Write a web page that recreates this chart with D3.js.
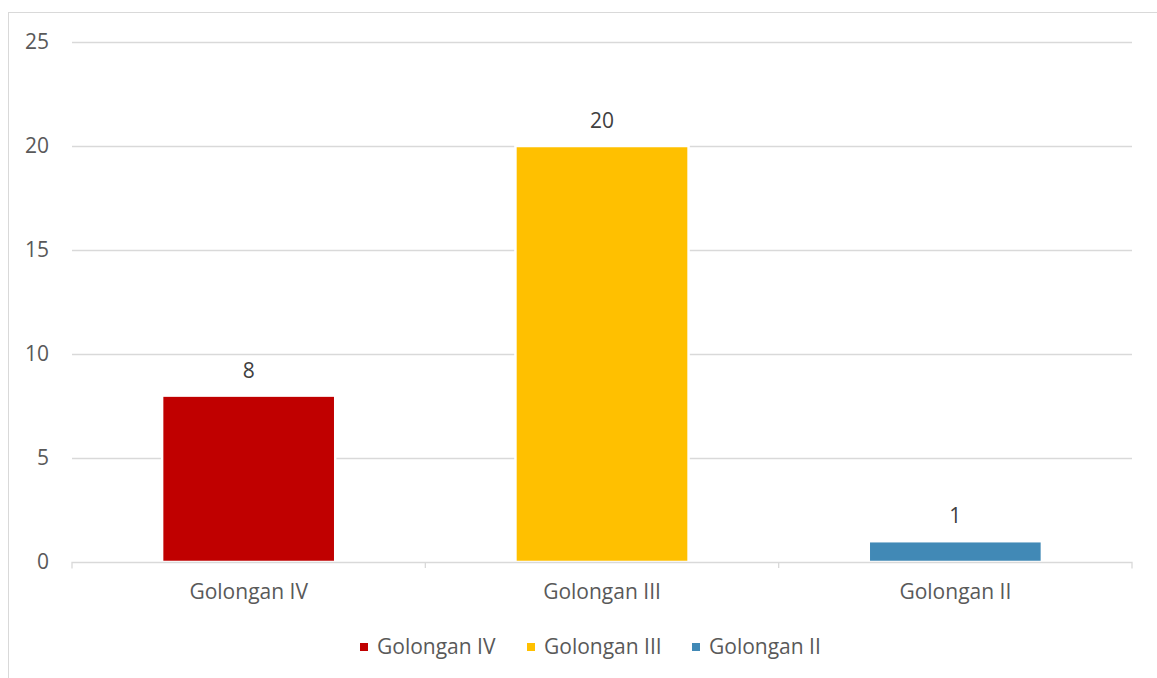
<!DOCTYPE html>
<html>
<head>
<meta charset="utf-8">
<script src="https://cdn.jsdelivr.net/npm/d3@7"></script>
<style>
  body { margin: 0; background: #fff; }
  text { font-family: "Open Sans", "Noto Sans", sans-serif; }
</style>
</head>
<body>
<div id="chart"></div>
<script>
let categories = ["Golongan IV", "Golongan III", "Golongan II"];
let values = [8, 20, 1];
let colors = ["#c00000", "#ffc000", "#4189b6"];
let yTicks = [0, 5, 10, 15, 20, 25];

let W = 1157, H = 678;
let margin = {top: 42, left: 72, right: 25, bottom: 116};
let width = W - margin.left - margin.right;
let height = H - margin.top - margin.bottom;
let fs = "21px";

let svg = d3.select("#chart")
    .append("svg")
    .attr("width", W)
    .attr("height", H);

// chart border
svg.append("rect")
    .attr("x", 8.5)
    .attr("y", 12.5)
    .attr("width", W)
    .attr("height", H)
    .attr("fill", "none")
    .attr("stroke", "#d9d9d9");

let g = svg.append("g")
    .attr("transform", "translate(" + margin.left + "," + margin.top + ")");

let x = d3.scaleBand()
    .domain(categories)
    .range([0, width])
    .paddingInner(0.51)
    .paddingOuter(0.255);

let xOuter = d3.scaleBand()
    .domain(categories)
    .range([0, width]);

let y = d3.scaleLinear()
    .domain([0, 25])
    .range([height, 0]);

// gridlines
g.selectAll(".grid")
    .data(yTicks.filter(d => d > 0))
    .enter()
    .append("line")
    .attr("x1", 0)
    .attr("x2", width)
    .attr("y1", d => Math.round(y(d)) + 0.5)
    .attr("y2", d => Math.round(y(d)) + 0.5)
    .attr("stroke", "#d9d9d9")
    .attr("stroke-width", 1.3);

// y labels
g.selectAll(".ylab")
    .data(yTicks)
    .enter()
    .append("text")
    .attr("x", -23)
    .attr("y", d => y(d))
    .attr("dy", "0.35em")
    .attr("text-anchor", "end")
    .attr("fill", "#595959")
    .style("font-size", fs)
    .text(d => d);

// bars
g.selectAll(".bar")
    .data(values)
    .enter()
    .append("rect")
    .attr("x", (d, i) => x(categories[i]))
    .attr("y", d => y(d))
    .attr("width", x.bandwidth())
    .attr("height", d => height - y(d))
    .attr("fill", (d, i) => colors[i])
    .attr("stroke", "#fff")
    .attr("stroke-width", 2.5);

// x axis
let xAxis = d3.axisBottom(xOuter).tickSize(0).tickPadding(22);
let ax = g.append("g")
    .attr("transform", "translate(0," + (Math.round(height) + 0.5) + ")")
    .call(xAxis);
ax.select(".domain")
    .attr("d", "M0,6V0H" + width + "V6")
    .attr("stroke", "#d9d9d9")
    .attr("stroke-width", 1.3);
ax.selectAll("text")
    .attr("fill", "#595959")
    .style("font-size", fs)
    .style("font-family", "'Open Sans', 'Noto Sans', sans-serif");

// inner category separators
g.selectAll(".sep")
    .data(categories.slice(1))
    .enter()
    .append("line")
    .attr("x1", d => xOuter(d))
    .attr("x2", d => xOuter(d))
    .attr("y1", Math.round(height) + 0.5)
    .attr("y2", Math.round(height) + 6)
    .attr("stroke", "#d9d9d9")
    .attr("stroke-width", 1.3);

// data labels
g.selectAll(".vlab")
    .data(values)
    .enter()
    .append("text")
    .attr("x", (d, i) => x(categories[i]) + x.bandwidth() / 2)
    .attr("y", d => y(d) - 18)
    .attr("text-anchor", "middle")
    .attr("fill", "#404040")
    .style("font-size", fs)
    .text(d => d);

// legend
let legendX = [360, 527, 692];
let legend = svg.selectAll(".legend")
    .data(categories)
    .enter()
    .append("g")
    .attr("transform", (d, i) => "translate(" + legendX[i] + ",647)");
legend.append("rect")
    .attr("x", 0)
    .attr("y", -4)
    .attr("width", 8)
    .attr("height", 8)
    .attr("fill", (d, i) => colors[i]);
legend.append("text")
    .attr("x", 17)
    .attr("dy", "0.35em")
    .attr("fill", "#595959")
    .style("font-size", fs)
    .text(d => d);
</script>
</body>
</html>
